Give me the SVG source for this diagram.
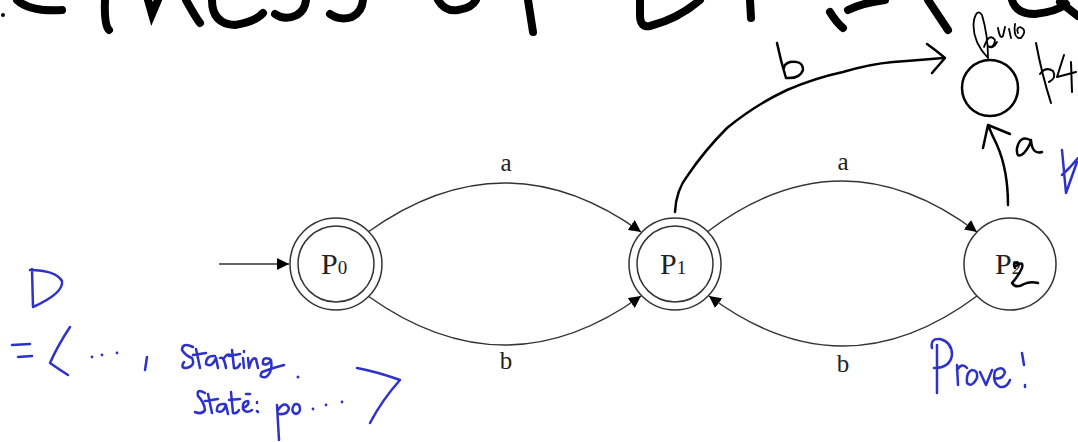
<svg xmlns="http://www.w3.org/2000/svg" width="1078" height="442" viewBox="0 0 1078 442">
<style>
.edge{fill:none;stroke:#333;stroke-width:1.5}
.node{fill:#fff;stroke:#333;stroke-width:1.5}
.lbl{font-family:"Liberation Serif",serif;font-size:25px;fill:#222;text-anchor:middle}
.nlbl{font-family:"Liberation Serif",serif;font-size:30px;fill:#222}
.sub{font-size:19px}
.ink{fill:none;stroke:#000;stroke-linecap:round;stroke-linejoin:round}
.title{fill:none;stroke:#000;stroke-linecap:round;stroke-width:8}
.blue{fill:none;stroke:#2d32c8;stroke-width:2.5;stroke-linecap:round;stroke-linejoin:round}
</style>
<defs>
<marker id="arrL" viewBox="0 0 10 10" refX="10" refY="5" markerWidth="12" markerHeight="12" markerUnits="userSpaceOnUse" orient="auto"><path d="M0,0 L10,5 L0,10 z" fill="#000"/></marker>
</defs>

<g id="title-ink">
<path class="title" stroke-width="6" d="M17,0 Q30,12 62,10"/>
<circle cx="3" cy="15" r="2" fill="#000"/>
<path class="title" d="M105,0 Q104,25 109,30"/>
<path class="title" stroke-width="6" d="M148,0 L152,14 L158,0"/>
<path class="title" stroke-width="7" d="M186,0 Q196,18 200,23"/>
<path class="title" stroke-width="7" d="M212,0 Q212,24 235,25 Q255,22 263,13"/>
<path class="title" stroke-width="7" d="M275,14 Q285,21 297,15 Q305,10 306,0"/>
<path class="title" stroke-width="7" d="M330,14 Q340,21 352,17 Q362,12 363,0"/>
<path class="title" stroke-width="7" d="M438,0 Q445,12 458,10 Q472,8 476,0"/>
<path class="title" d="M528,0 L533,32"/>
<path class="title" stroke-width="9" d="M640,0 L640,15 Q640,28 650,26 Q678,19 700,0"/>
<path class="title" d="M750,0 L751,18"/>
<path class="title" stroke-width="9" d="M830,12 Q836,22 843,28 M848,10 Q862,3 885,0"/>
<path class="title" stroke-width="9" d="M928,0 Q940,18 948,30"/>
<path class="title" d="M1012,0 Q1016,14 1035,14 Q1056,12 1066,4 M1060,2 L1078,16"/>
</g>

<g id="connectors">
<path class="edge" d="M219,264 L289,264" marker-end="url(#arrL)"/>
<path class="edge" d="M368,232 Q505,134 641,232" marker-end="url(#arrL)"/>
<path class="edge" d="M368,296 Q505,394 641,296" marker-end="url(#arrL)"/>
<path class="edge" d="M707,232 Q842,130 977,232" marker-end="url(#arrL)"/>
<path class="edge" d="M977,296 Q843,396 709,296" marker-end="url(#arrL)"/>
<text class="lbl" x="506" y="171">a</text>
<text class="lbl" x="506" y="369">b</text>
<text class="lbl" x="843" y="170">a</text>
<text class="lbl" x="843" y="372">b</text>
</g>

<g id="node-p0">
<circle class="node" cx="336" cy="264" r="46"/>
<circle class="node" cx="336" cy="264" r="38"/>
<text class="nlbl" x="321" y="274">P<tspan class="sub">0</tspan></text>
</g>
<g id="node-p1">
<circle class="node" cx="675" cy="264" r="46"/>
<circle class="node" cx="675" cy="264" r="38"/>
<text class="nlbl" x="660" y="274">P<tspan class="sub">1</tspan></text>
</g>
<g id="node-p2">
<circle class="node" cx="1010" cy="264" r="46"/>
<text class="nlbl" x="995" y="274">P<tspan class="sub">2</tspan></text>
</g>

<g id="black-ink">
<path class="ink" stroke-width="2.5" d="M675,212 Q676,190 688,175 Q705,150 727,128 Q755,105 787,90 Q815,78 843,72 Q870,64 893,62 Q920,60 943,58"/>
<path class="ink" stroke-width="2.5" d="M927,44 Q938,52 945,58 Q938,66 932,73"/>
<path class="ink" stroke-width="2.5" d="M777,43 Q781,62 786,78 Q800,79 803,70 Q803,60 790,62 Q784,64 784,68"/>
<circle class="ink" stroke-width="2.5" cx="990" cy="88" r="28"/>
<path class="ink" stroke-width="2.5" d="M1008,205 Q1008,170 997,145 Q992,135 988,125 M983,148 L988,125 L1010,134"/>
<path class="ink" stroke-width="2.5" d="M1030,140 Q1020,135 1017,148 Q1016,160 1024,153 Q1030,146 1031,140 Q1032,155 1042,152"/>
<path class="ink" stroke-width="1.8" d="M988,58 Q971,40 974,20 Q977,8 982,15 Q988,35 988,58 M984,47 Q989,32 995,40 Q994,49 988,46 Q993,50 997,42 M998,28 Q1000,40 1003,36 L1005,27 M1009,29 L1011,38 M1015,24 Q1013,39 1021,38 Q1028,30 1020,27 Q1016,28 1018,33"/>
<path class="ink" stroke-width="2" d="M1036,43 Q1042,75 1051,103 M1040,74 Q1046,66 1053,71 Q1057,78 1049,82 M1064,55 L1057,77 L1076,72 M1071,62 L1072,92"/>
<path class="ink" stroke-width="2.5" d="M1016,266 Q1024,260 1022,268 Q1019,275 1012,283 Q1016,289 1024,284 Q1030,281 1038,283 M1015,268 Q1012,262 1018,263"/>
</g>

<g id="blue-ink">
<path class="blue" stroke-width="3" d="M1062,150 L1066,193 L1077,162 M1062,175 Q1070,168 1078,158"/>
<path class="blue" d="M32,269 L33,307 M30,270 Q55,270 62,281 Q64,293 33,307"/>
<path class="blue" d="M12,345 L30,344 M18,357 L32,356"/>
<path class="blue" d="M70,327 Q58,345 50,363 Q60,370 68,375"/>
<circle cx="92" cy="357" r="1.4" fill="#2d32c8"/>
<circle cx="102" cy="355" r="1.4" fill="#2d32c8"/>
<circle cx="117" cy="353" r="1.4" fill="#2d32c8"/>
<path class="blue" d="M147,357 L145,370"/>
<path class="blue" d="M193,347 Q182,342 182,350 Q186,356 192,358 Q196,366 186,368 Q180,368 184,362 M196,349 Q198,358 200,368 M193,355 L206,353 M215,356 Q206,355 206,364 Q212,368 216,358 L218,368 M220,358 Q224,356 226,368 M224,358 Q228,352 232,356 M232,350 L234,368 Q238,369 240,364 M229,356 L240,354 M243,358 L244,368 M244,351 L244,352 M248,358 L249,368 Q252,356 256,359 L258,368 M270,359 Q262,356 263,364 Q268,366 271,360 Q273,372 266,377 Q258,378 262,372 Q272,368 284,365"/>
<circle cx="298" cy="377" r="1.5" fill="#2d32c8"/>
<path class="blue" d="M205,393 Q196,388 198,396 Q204,402 205,410 Q202,415 195,412 M208,394 L212,413 M205,401 L218,399 M225,404 Q216,403 217,411 Q223,414 226,405 L228,414 M231,392 L233,413 Q237,414 239,410 M229,400 L240,399 M243,408 Q250,405 248,401 Q242,401 243,409 Q246,414 252,410 M246,394 L250,394 M257,402 L257,403 M257,411 L258,412 M277,405 L279,440 M278,410 Q285,400 289,408 Q288,415 279,414 M294,405 Q290,412 296,414 Q302,412 299,405 Q296,403 294,405"/>
<circle cx="313" cy="409" r="1.4" fill="#2d32c8"/>
<circle cx="326" cy="405" r="1.4" fill="#2d32c8"/>
<circle cx="342" cy="402" r="1.4" fill="#2d32c8"/>
<path class="blue" d="M357,368 Q378,372 400,380 Q382,400 370,423"/>
<path class="blue" d="M937,345 L937,393 M932,348 Q930,338 940,339 Q952,342 952,355 Q950,368 934,368 M957,365 L958,385 M957,370 Q962,362 967,368 M972,370 Q966,372 967,383 Q972,388 977,378 Q978,370 972,370 M980,372 L986,385 L992,370 M994,378 Q1003,380 1005,372 Q1002,365 995,371 Q992,383 1000,387 Q1007,388 1010,380 M1022,353 L1024,365 M1025,385 L1025,387"/>
</g>
</svg>
